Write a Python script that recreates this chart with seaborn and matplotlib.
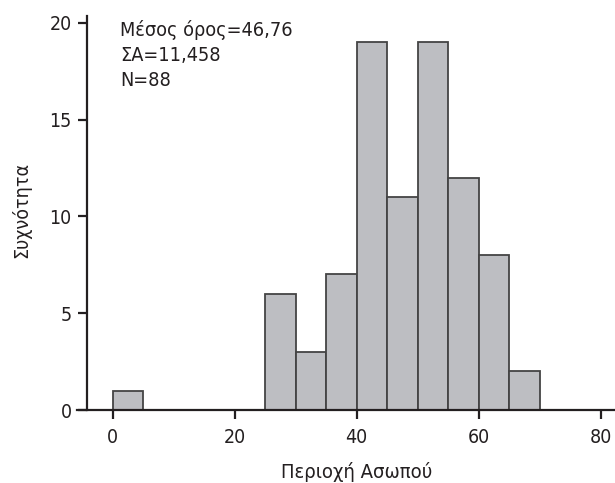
import numpy as np
import pandas as pd
import matplotlib
matplotlib.use("Agg")
import matplotlib.pyplot as plt
import seaborn as sns

# Histogram of values for the Asopos area (bins of width 5)
bin_left = [0, 5, 10, 15, 20, 25, 30, 35, 40, 45, 50, 55, 60, 65]
counts = [1, 0, 0, 0, 0, 6, 3, 7, 19, 11, 19, 12, 8, 2]
stats_lines = ["Μέσος όρος=46,76", "ΣΑ=11,458", "N=88"]
x_ticks = [0, 20, 40, 60, 80]
y_ticks = [0, 5, 10, 15, 20]
x_label = "Περιοχή Ασωπού"
y_label = "Συχνότητα"

sns.set_style("ticks")
plt.rcParams["font.family"] = ["DejaVu Sans"]
plt.rcParams["font.stretch"] = "condensed"

ink = "#231f20"
bin_w = 5
edges = [float(b) for b in bin_left] + [float(bin_left[-1] + bin_w)]
df = pd.DataFrame({"x": [b + bin_w / 2 for b in bin_left], "n": counts})

fig = plt.figure(figsize=(6.15, 4.83), dpi=100)
W, H = 615, 483
ax_h = 410 - 15.7
ax_w = 615 - 77
ax = fig.add_axes([77 / W, 1 - 410 / H, ax_w / W, ax_h / H])

sns.histplot(data=df, x="x", weights="n", bins=edges, ax=ax,
             color="#bdbec2", alpha=1, edgecolor="#444444", linewidth=1.3)

px_per_unit = 6.1
y_px = 19.36
ax.set_xlim((77 - 112.5) / px_per_unit, (615 - 112.5) / px_per_unit)
ax.set_ylim(0, ax_h / y_px)

ax.spines["right"].set_visible(False)
ax.spines["top"].set_visible(False)
ax.spines["left"].set_position(("data", (86.5 - 112.5) / px_per_unit))
for s in ("left", "bottom"):
    ax.spines[s].set_linewidth(1.6)
    ax.spines[s].set_color(ink)

ax.set_xticks(x_ticks)
ax.set_yticks(y_ticks)
ax.tick_params(axis="both", length=6.2, width=1.6, color=ink,
               labelsize=14, labelcolor=ink)
ax.tick_params(axis="x", pad=7)
ax.tick_params(axis="y", pad=4.5)

ax.set_xlabel(x_label, fontsize=14.5, color=ink)
ax.set_ylabel(y_label, fontsize=14, color=ink)
ax.xaxis.label.set_va("baseline")
ax.yaxis.label.set_va("baseline")
ax.xaxis.set_label_coords((356.5 - 77) / ax_w, -(478 - 410) / ax_h)
ax.yaxis.set_label_coords(-(77 - 27) / ax_w, (410 - 210) / ax_h)

tx = (120 - 112.5) / px_per_unit
for i, line in enumerate(stats_lines):
    ty = (410 - (35.7 + 25.3 * i)) / y_px
    ax.text(tx, ty, line, fontsize=14.2, color=ink, va="baseline", ha="left")

fig.savefig("out.png", dpi=100)
